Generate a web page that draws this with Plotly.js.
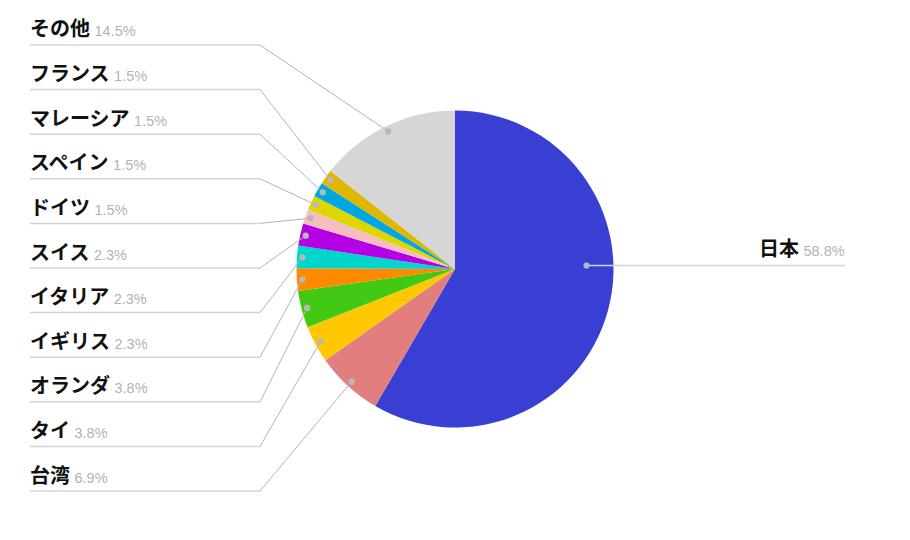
<!DOCTYPE html>
<html>
<head>
<meta charset="utf-8">
<script src="https://cdn.plot.ly/plotly-3.0.1.min.js"></script>
<style>html,body{margin:0;padding:0;background:#fff;}#chart{width:910px;height:540px;}</style>
</head>
<body>
<div id="chart"></div>
<script>
// ---- data ----
const categories = ["日本","台湾","タイ","オランダ","イギリス","イタリア","スイス","ドイツ","スペイン","マレーシア","フランス","その他"];
const percents   = [58.8, 6.9, 3.8, 3.8, 2.3, 2.3, 2.3, 1.5, 1.5, 1.5, 1.5, 14.5];
const sliceColors = ["#3a3fd4","#e37e7e","#ffc803","#42c914","#ff8a00","#00d6c9","#b500e6","#f6bfbf","#dfd600","#00a7e0","#e0b700","#d6d6d6"];

// ---- layout geometry (pixels) ----
const W = 910, H = 540;
const cx = 455, cy = 269, R = 158.5;
const px = x => x / W;
const py = y => 1 - y / H;

const total = percents.reduce((a, b) => a + b, 0);
const shapes = [];
const annotations = [];
const dotR = 3.1;
const dotColor = "#b8b8b8";
const underColor = "#d4d4d4";
const diagColor = "#b4b4b4";

function dot(x, y) {
  shapes.push({type:"circle", xref:"paper", yref:"paper",
    x0:px(x-dotR), x1:px(x+dotR), y0:py(y+dotR), y1:py(y-dotR),
    fillcolor:dotColor, line:{width:0}, layer:"above"});
}
function seg(x0, y0, x1, y1, color, w) {
  shapes.push({type:"line", xref:"paper", yref:"paper",
    x0:px(x0), y0:py(y0), x1:px(x1), y1:py(y1), line:{color:color, width:w}, layer:"above"});
}
function labelHtml(name, pct) {
  return "<b>" + name + "</b> <span style='font-size:14.5px;color:#b3b3b3;font-family:Liberation Sans'>" + pct.toFixed(1) + "%</span>";
}

// left-side labels stacked top to bottom in reverse data order
const leftIdx = [];
let cum = 0;
const mids = percents.map(v => { const m = (cum + v / 2) / total * 2 * Math.PI; cum += v; return m; });
categories.forEach((c, i) => { if (Math.sin(mids[i]) < 0) leftIdx.push(i); });
leftIdx.reverse();
const topLine = 45, lineStep = 44.6, lineLeft = 30, lineRight = 260;

leftIdx.forEach((i, k) => {
  const ly = topLine + k * lineStep;
  const a = mids[i];
  const dx = cx + 0.965 * R * Math.sin(a);
  const dy = cy - 0.965 * R * Math.cos(a);
  seg(lineLeft, ly, lineRight, ly, underColor, 1.5);
  seg(lineRight, ly, dx, dy, diagColor, 1);
  dot(dx, dy);
  annotations.push({xref:"paper", yref:"paper", x:px(lineLeft - 1), y:py(ly - 17),
    xanchor:"left", yanchor:"middle", showarrow:false, align:"left", borderpad:0,
    text: labelHtml(categories[i], percents[i]),
    font:{family:"Noto Sans CJK JP", size:20, color:"#111"}});
});

// right-side labels
categories.forEach((c, i) => {
  if (Math.sin(mids[i]) >= 0) {
    const ly = cy - 3.5;
    const dx = cx + 0.83 * R;
    seg(dx, ly, 845, ly, underColor, 1.5);
    dot(dx, ly);
    annotations.push({xref:"paper", yref:"paper", x:px(846), y:py(ly - 18),
      xanchor:"right", yanchor:"middle", showarrow:false, align:"right", borderpad:0,
      text: labelHtml(c, percents[i]),
      font:{family:"Noto Sans CJK JP", size:20, color:"#111"}});
  }
});

const trace = {
  type:"pie",
  labels: categories,
  values: percents,
  sort:false,
  direction:"clockwise",
  rotation:0,
  textinfo:"none",
  hoverinfo:"label+percent",
  marker:{colors:sliceColors, line:{width:0}},
  domain:{x:[px(cx - R), px(cx + R)], y:[py(cy + R), py(cy - R)]},
  automargin:false,
  showlegend:false
};

const layout = {
  width:W, height:H,
  margin:{l:0, r:0, t:0, b:0},
  paper_bgcolor:"#fff", plot_bgcolor:"#fff",
  showlegend:false,
  shapes: shapes,
  annotations: annotations
};

Plotly.newPlot("chart", [trace], layout, {displayModeBar:false, staticPlot:true});
</script>
</body>
</html>
